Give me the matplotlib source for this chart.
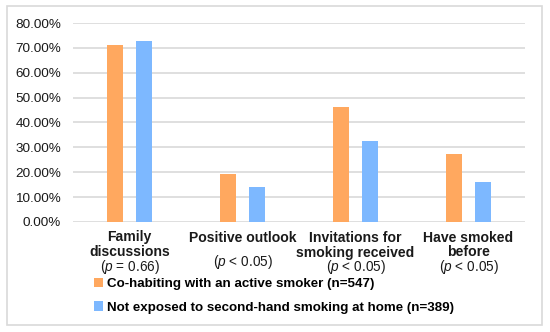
import matplotlib
matplotlib.use("Agg")
import matplotlib.pyplot as plt
import matplotlib.transforms as mtransforms
from matplotlib.patches import Rectangle
from matplotlib.ticker import PercentFormatter

plt.rcParams['font.family'] = ['Liberation Sans', 'DejaVu Sans']
plt.rcParams['mathtext.fontset'] = 'custom'
plt.rcParams['mathtext.rm'] = 'Liberation Sans'
plt.rcParams['mathtext.it'] = 'Liberation Sans:italic'

categories = ["Family\ndiscussions", "Positive outlook\n", "Invitations for\nsmoking received", "Have smoked\nbefore"]
pvalues = [r"($\mathit{p}$ = 0.66)", r"($\mathit{p}$ < 0.05)", r"($\mathit{p}$ < 0.05)", r"($\mathit{p}$ < 0.05)"]
series_names = ["Co-habiting with an active smoker (n=547)",
                "Not exposed to second-hand smoking at home (n=389)"]
cohabiting = [71.1, 19.3, 46.1, 27.4]
not_exposed = [72.6, 14.2, 32.5, 16.2]
yticks = [0, 10, 20, 30, 40, 50, 60, 70, 80]

orange = "#FFA85F"
blue = "#7DB8FF"

W, H = 550, 332
fig = plt.figure(figsize=(5.5, 3.32), dpi=100)
fig.patches.append(Rectangle((7 / W, 1 - 325 / H), 535 / W, 319 / H, transform=fig.transFigure,
                             facecolor="white", edgecolor="#d9d9d9", linewidth=1.2, zorder=-1))

ax = fig.add_axes([73 / W, 1 - 222 / H, 452 / W, 199 / H])
ax.set_facecolor("none")
x = range(len(categories))
bw = 0.14
off = 0.13
b1 = ax.bar([i - off for i in x], cohabiting, width=bw, color=orange, label=series_names[0], zorder=3)
b2 = ax.bar([i + off for i in x], not_exposed, width=bw, color=blue, label=series_names[1], zorder=3)

ax.set_xlim(-0.5, len(categories) - 0.5)
ax.set_ylim(0, 80)
ax.set_yticks(yticks)
ax.yaxis.set_major_formatter(PercentFormatter(decimals=2))
ax.grid(axis='y', color="#d9d9d9", linewidth=1.2, zorder=0)
for s in ax.spines.values():
    s.set_visible(False)
ax.tick_params(axis='y', length=0, labelsize=9.7, pad=8.5, labelcolor="#1a1a1a")
ax.tick_params(axis='x', length=0)
ax.set_xticks([])

trans = mtransforms.blended_transform_factory(ax.transData, fig.transFigure)
p_y = [267.5, 262, 267.5, 267.5]
for i, (c, p) in enumerate(zip(categories, pvalues)):
    lines = c.split("\n")
    for j, ln in enumerate(lines):
        if ln:
            ax.text(i, 1 - (237.5 + 15 * j) / H, ln, transform=trans, ha='center', va='center',
                    fontsize=10.1, fontweight='bold', color="#1a1a1a")
    ax.text(i, 1 - p_y[i] / H, p, transform=trans, ha='center', va='center',
            fontsize=9.8, color="#1a1a1a")

fig.legend(handles=[b1, b2], labels=series_names, loc='upper left',
           bbox_to_anchor=(94 / W, 1 - 277.5 / H), frameon=False,
           prop={'weight': 'bold', 'size': 9.6}, handlelength=0.7, handleheight=0.7,
           handletextpad=0.3, labelspacing=0.85, borderpad=0, borderaxespad=0)

fig.savefig("out.png", dpi=100)
